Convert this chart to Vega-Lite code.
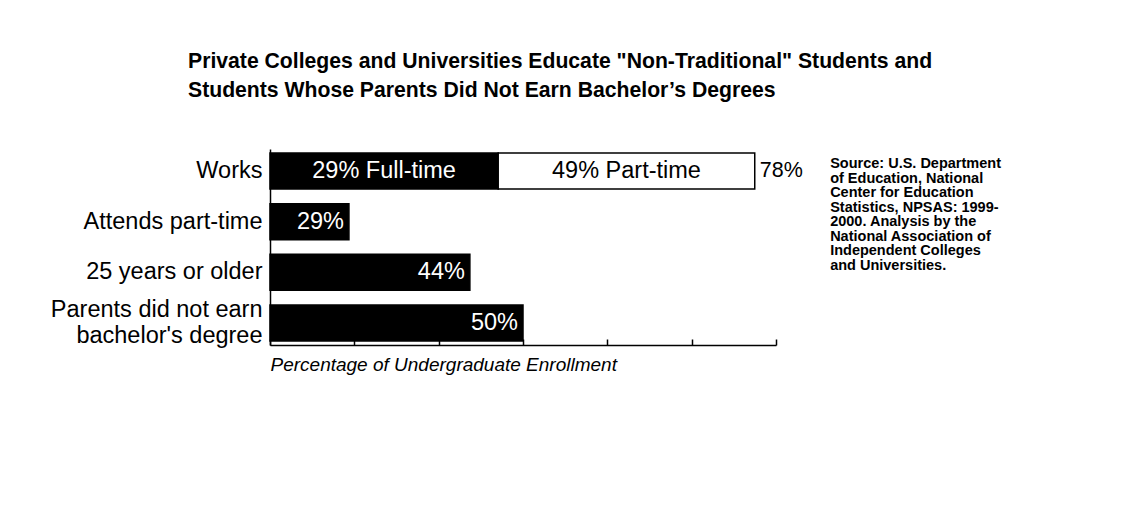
{
  "$schema": "https://vega.github.io/schema/vega-lite/v6.json",
  "width": 506,
  "height": 196,
  "autosize": {"type": "none"},
  "padding": {"left": 270, "top": 149, "right": 354, "bottom": 183},
  "background": "white",
  "config": {"view": {"stroke": null}, "font": "Liberation Sans"},
  "title": {
    "text": ["Private Colleges and Universities Educate \"Non-Traditional\" Students and", "Students Whose Parents Did Not Earn Bachelor’s Degrees"],
    "anchor": "start",
    "frame": "group",
    "dx": -82,
    "fontSize": 21.2,
    "fontWeight": "bold",
    "lineHeight": 29,
    "offset": 48,
    "color": "black",
    "font": "Liberation Sans"
  },
  "data": {
    "values": [
      {"category": "Works", "part": "Full-time", "seq": 1, "len": 45.1, "label": "29% Full-time", "total": "78%"},
      {"category": "Works", "part": "Part-time", "seq": 2, "len": 50.7, "label": "49% Part-time", "total": "78%"},
      {"category": "Attends part-time", "part": "Single", "seq": 1, "len": 15.6, "label": "29%"},
      {"category": "25 years or older", "part": "Single", "seq": 1, "len": 39.5, "label": "44%"},
      {"category": "Parents did not earn bachelor's degree", "part": "Single", "seq": 1, "len": 50, "label": "50%"}
    ]
  },
  "encoding": {
    "y": {
      "field": "category",
      "type": "nominal",
      "sort": null,
      "scale": {"paddingInner": 0.29, "paddingOuter": 0.08},
      "axis": {
        "title": null,
        "domainColor": "black",
        "domainWidth": 1.5,
        "ticks": false,
        "labelFontSize": 23.5,
        "labelColor": "black",
        "labelPadding": 8,
        "labelLineHeight": 26,
        "labelLimit": 400,
        "labelExpr": "datum.value === \"Parents did not earn bachelor's degree\" ? ['Parents did not earn\u00a0', \"bachelor's degree\"] : datum.label",
        "labelOffset": {"condition": {"test": "datum.value === \"Parents did not earn bachelor's degree\"", "value": -12.5}, "value": 0}
      }
    }
  },
  "layer": [
    {
      "mark": {"type": "bar", "stroke": "black", "strokeWidth": 1.5},
      "encoding": {
        "x": {
          "field": "len",
          "type": "quantitative",
          "stack": "zero",
          "scale": {"domain": [0, 100], "nice": false},
          "axis": {
            "title": "Percentage of Undergraduate Enrollment",
            "titleFontStyle": "italic",
            "titleFontWeight": "normal",
            "titleFontSize": 19,
            "titleColor": "black",
            "titleAnchor": "start",
            "titleAlign": "left",
            "titlePadding": 10,
            "labels": false,
            "grid": false,
            "values": [0, 16.667, 33.333, 50, 66.667, 83.333, 100],
            "tickSize": -6,
            "tickColor": "black",
            "tickWidth": 1.5,
            "domainColor": "black",
            "domainWidth": 1.5
          }
        },
        "order": {"field": "seq"},
        "color": {
          "field": "part",
          "type": "nominal",
          "scale": {"domain": ["Full-time", "Part-time", "Single"], "range": ["black", "white", "black"]},
          "legend": null
        }
      }
    },
    {
      "transform": [{"filter": "datum.category === 'Works'"}],
      "mark": {"type": "text", "fontSize": 23.5},
      "encoding": {
        "x": {"field": "len", "type": "quantitative", "stack": "zero", "bandPosition": 0.5},
        "order": {"field": "seq"},
        "text": {"field": "label"},
        "color": {"condition": {"test": "datum.part === 'Full-time'", "value": "white"}, "value": "black"}
      }
    },
    {
      "transform": [{"filter": "datum.part === 'Single'"}],
      "mark": {"type": "text", "fontSize": 23.5, "align": "right", "dx": -5, "color": "white"},
      "encoding": {
        "x": {"field": "len", "type": "quantitative"},
        "text": {"field": "label"}
      }
    },
    {
      "transform": [
        {"aggregate": [{"op": "sum", "field": "len", "as": "tot"}], "groupby": ["category", "total"]},
        {"filter": "datum.category === 'Works'"}
      ],
      "mark": {"type": "text", "fontSize": 21.5, "align": "left", "dx": 5, "color": "black"},
      "encoding": {
        "x": {"field": "tot", "type": "quantitative"},
        "text": {"field": "total"}
      }
    },
    {
      "data": {"values": [{"note": "Source: U.S. Department\nof Education, National\nCenter for Education\nStatistics, NPSAS: 1999-\n2000. Analysis by the\nNational Association of\nIndependent Colleges\nand Universities."}]},
      "mark": {"type": "text", "align": "left", "baseline": "top", "lineBreak": "\n", "fontSize": 14.5, "fontWeight": "bold", "lineHeight": 14.5, "dy": -14, "color": "black"},
      "encoding": {
        "x": {"datum": 110.7},
        "y": {"datum": "Works", "type": "nominal"},
        "text": {"field": "note"}
      }
    }
  ]
}
